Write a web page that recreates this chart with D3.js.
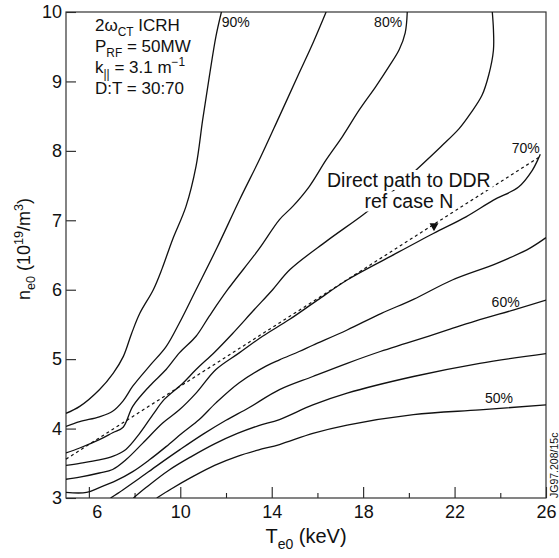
<!DOCTYPE html>
<html>
<head>
<meta charset="utf-8">
<script src="https://cdn.jsdelivr.net/npm/d3@7"></script>
<style>
    body { margin: 0; background: #fff; }
    svg text { font-family: "Liberation Sans", Arial, Helvetica, sans-serif; fill: #111; white-space: pre; }
</style>
</head>
<body>
<svg id="chart" width="559" height="558"></svg>
<script>
// Contours, points are [Te0 (keV), ne0 (10^19/m^3)]
const contourLevels = ["90%", "85%", "80%", "75%", "70%", "65%", "60%", "55%", "50%"];

const contour90 = [[5, 4.22], [5.6, 4.32], [6.46, 4.56], [7.07, 4.8], [7.51, 5.04], [7.87, 5.37], [8.23, 5.66],
    [8.82, 6.0], [9.2, 6.3], [9.66, 6.72], [10.25, 7.2], [10.69, 7.78], [10.98, 8.45], [11.27, 9.07], [11.56, 9.65], [11.8, 10]];
const contour85 = [[5, 4.03], [5.6, 4.1], [6.46, 4.17], [7.04, 4.25], [7.5, 4.4], [7.92, 4.61], [8.65, 4.9], [9.38, 5.18],
    [9.96, 5.52], [10.69, 6.0], [11.6, 6.6], [12.6, 7.3], [13.5, 7.9], [14.34, 8.5], [15.2, 9.12], [15.8, 9.55], [16.38, 10]];
const contour80 = [[5, 3.65], [5.6, 3.72], [6.46, 3.84], [7.04, 3.94], [7.5, 4.02], [7.92, 4.32], [8.65, 4.61], [9.38, 4.85],
    [9.96, 5.09], [10.69, 5.33], [11.27, 5.62], [12.07, 6.0], [13.43, 6.58], [14.34, 7.01], [14.92, 7.2], [15.65, 7.49],
    [16.38, 7.87], [17.1, 8.21], [17.83, 8.59], [18.56, 8.93], [19.14, 9.22], [19.58, 9.46], [19.84, 9.7], [19.93, 10]];
const contour75 = [[5, 3.47], [5.6, 3.5], [6.46, 3.55], [7.04, 3.6], [7.62, 3.7], [8.2, 3.92], [8.8, 4.2], [9.3, 4.42],
    [10.1, 4.65], [10.69, 4.85], [11.5, 5.1], [12.29, 5.37], [13.2, 5.7], [14.04, 6.0], [14.8, 6.29], [16.4, 6.7], [18, 7.08],
    [19.3, 7.42], [20.4, 7.75], [21.4, 8.06], [22.2, 8.32], [22.7, 8.54], [23.2, 8.8], [23.5, 9.1], [23.7, 9.45], [23.7, 9.75], [23.65, 10]];
const contour70 = [[5, 3.27], [5.6, 3.3], [6.46, 3.36], [7.04, 3.41], [7.62, 3.55], [8.36, 3.79], [9.23, 4.08], [9.96, 4.27],
    [10.69, 4.51], [11.56, 4.85], [12.58, 5.09], [13.6, 5.33], [14.77, 5.57], [16, 5.85], [17.3, 6.14], [19.2, 6.48],
    [21.07, 6.81], [22.5, 7.05], [23.7, 7.29], [24.8, 7.48], [25.4, 7.72], [25.75, 7.95]];
const contour65 = [[5, 3.08], [5.9, 3.08], [6.46, 3.15], [7.19, 3.25], [7.92, 3.38], [8.65, 3.55], [9.38, 3.74], [10.1, 3.94],
    [10.83, 4.13], [11.56, 4.37], [12.58, 4.66], [13.75, 4.9], [14.34, 4.99], [15.2, 5.11], [15.8, 5.2], [17.3, 5.42],
    [18.8, 5.66], [20.2, 5.86], [21.9, 6.14], [23.85, 6.38], [25.3, 6.6], [26, 6.75]];
const contour60 = [[6.95, 3.0], [7.5, 3.12], [8.2, 3.28], [9, 3.47], [10, 3.7], [11, 3.92], [12, 4.12], [13, 4.3], [14.34, 4.56],
    [15.8, 4.75], [17.3, 4.94], [18.75, 5.11], [19.9, 5.23], [21.7, 5.42], [23.1, 5.57], [24.6, 5.71], [26, 5.85]];
const contour55 = [[7.95, 3.0], [8.5, 3.15], [9.5, 3.4], [10.5, 3.6], [11.5, 3.78], [12.5, 3.93], [13.4, 4.04], [14.34, 4.13],
    [15.8, 4.34], [17.3, 4.51], [20.2, 4.75], [23.1, 4.94], [26, 5.08]];
const contour50 = [[8.97, 3.0], [9.6, 3.13], [10.5, 3.3], [11.5, 3.47], [12.5, 3.6], [13.4, 3.69], [14.34, 3.77],
    [15.8, 3.93], [17.3, 4.05], [20.2, 4.2], [23.1, 4.27], [26, 4.34]];

const contours = [contour90, contour85, contour80, contour75, contour70, contour65, contour60, contour55, contour50];

// dashed "direct path" and where its arrow head sits
const directPath = [[5, 3.56], [25.75, 7.92]];
const arrowAt = 21.1;

const xTicks = [6, 10, 14, 18, 22, 26];
const xMinorTicks = [8, 12, 16, 20, 24];
const yTicks = [3, 4, 5, 6, 7, 8, 9, 10];

// percent labels and their anchors (data units)
const labelledLevels = ["90%", "80%", "70%", "60%", "50%"];
const labelAnchors = [[11.81, 9.78], [18.48, 9.78], [24.5, 7.965], [23.62, 5.755], [23.33, 4.373]];

/** Draw a text made of normal, sub and superscript pieces. */
function richText(sel, parts, size) {
    let shift = 0;
    parts.forEach(p => {
        let target = p.sub ? size * 0.3 : (p.sup ? -size * 0.4 : 0);
        sel.append("tspan")
           .attr("dy", target - shift)
           .style("font-size", (p.sub || p.sup) ? (size * 0.7) + "px" : size + "px")
           .text(p.t);
        shift = target;
    });
}

class ContourChart {

    constructor(svgId) {
        this.svg = d3.select(svgId);
        this.x = d3.scaleLinear().domain([5, 26]).range([66, 546]);
        this.y = d3.scaleLinear().domain([3, 10]).range([498, 12]);
    }

    draw() {
        let x = this.x, y = this.y, svg = this.svg;
        let [x0, x1] = x.range();
        let [y0, y1] = y.range();

        svg.append("clipPath").attr("id", "plotClip")
           .append("rect")
           .attr("x", x0).attr("y", y1)
           .attr("width", x1 - x0).attr("height", y0 - y1);

        // axes, ticks point into the box
        let xAxis = d3.axisBottom(x).tickValues(xTicks).tickFormat(d3.format("d"))
                      .tickSizeInner(-11).tickSizeOuter(0).tickPadding(7);
        let gx = svg.append("g").attr("transform", "translate(0," + y0 + ")").call(xAxis);
        gx.select(".domain").remove();
        gx.selectAll("text").style("font-size", "18px")
          // the "6" sits a little right of its tick in the original
          .attr("dx", d => d === 6 ? 8 : 0);

        let gxm = svg.append("g").attr("transform", "translate(0," + y0 + ")")
                     .call(d3.axisBottom(x).tickValues(xMinorTicks).tickSizeInner(-5).tickSizeOuter(0).tickFormat(""));
        gxm.select(".domain").remove();

        let yAxis = d3.axisLeft(y).tickValues(yTicks).tickFormat(d3.format("d"))
                      .tickSizeInner(-10).tickSizeOuter(0).tickPadding(4);
        let gy = svg.append("g").attr("transform", "translate(" + x0 + ",0)").call(yAxis);
        gy.select(".domain").remove();
        gy.selectAll("text").style("font-size", "18px");

        svg.selectAll(".tick line").attr("stroke", "#222").attr("stroke-width", 1.1);

        // frame
        svg.append("rect")
           .attr("x", x0).attr("y", y1)
           .attr("width", x1 - x0).attr("height", y0 - y1)
           .attr("fill", "none").attr("stroke", "#333").attr("stroke-width", 1.2);

        // contour lines
        let line = d3.line()
                     .x(d => x(d[0]))
                     .y(d => y(d[1]))
                     .curve(d3.curveCatmullRom.alpha(0.5));

        svg.append("g").attr("clip-path", "url(#plotClip)")
           .selectAll("path")
           .data(contours)
           .enter().append("path")
           .attr("d", line)
           .attr("fill", "none")
           .attr("stroke", "#111")
           .attr("stroke-width", 1.3);

        // direct path to DDR (dashed) with arrow head
        svg.append("path")
           .attr("d", d3.line().x(d => x(d[0])).y(d => y(d[1]))(directPath))
           .attr("fill", "none")
           .attr("stroke", "#111")
           .attr("stroke-width", 1.2)
           .attr("stroke-dasharray", "3,3");

        let t = (arrowAt - directPath[0][0]) / (directPath[1][0] - directPath[0][0]);
        let arrowN = directPath[0][1] + t * (directPath[1][1] - directPath[0][1]);
        svg.append("path")
           .attr("d", "M-4.5,-1 L4.5,-1 L0,7 Z")
           .attr("transform", "translate(" + x(arrowAt) + "," + y(arrowN) + ")")
           .attr("fill", "#111");

        // percent labels
        svg.selectAll(".pct")
           .data(labelledLevels)
           .enter().append("text")
           .attr("class", "pct")
           .attr("x", (d, i) => x(labelAnchors[i][0]))
           .attr("y", (d, i) => y(labelAnchors[i][1]))
           .style("font-size", "14px")
           .text(d => d);

        // condition block
        let bx = x(6.27), by = y(9.73);
        let block = [
            [{t: "2ω"}, {t: "CT", sub: true}, {t: " ICRH"}],
            [{t: "P"}, {t: "RF", sub: true}, {t: " = 50MW"}],
            [{t: "k"}, {t: "||", sub: true}, {t: " = 3.1 m"}, {t: "−1", sup: true}],
            [{t: "D:T = 30:70"}]
        ];
        block.forEach((parts, i) => {
            let txt = svg.append("text").attr("x", bx).attr("y", by + i * 21);
            richText(txt, parts, 17);
        });

        // path annotation, the contour behind it is hidden by a white box
        let note = svg.append("g");
        let mask = note.append("g");
        let noteLines = ["Direct path to DDR", "ref case N"];
        let noteN = [7.48, 7.17];
        noteLines.forEach((s, i) => {
            let txt = note.append("text")
                          .attr("x", x(20)).attr("y", y(noteN[i]))
                          .attr("text-anchor", "middle")
                          .style("font-size", "19.5px")
                          .text(s);
            let b = txt.node().getBBox();
            mask.append("rect")
                .attr("x", b.x - 2).attr("y", b.y + 1)
                .attr("width", b.width + 4).attr("height", b.height - 2)
                .attr("fill", "#fff");
        });

        // axis titles
        let xt = svg.append("text")
                    .attr("x", (x0 + x1) / 2).attr("y", 543)
                    .attr("text-anchor", "middle");
        richText(xt, [{t: "T"}, {t: "e0", sub: true}, {t: " (keV)"}], 20);

        let yt = svg.append("text")
                    .attr("transform", "translate(30," + ((y0 + y1) / 2 - 6) + ") rotate(-90)")
                    .attr("text-anchor", "middle");
        richText(yt, [{t: "n"}, {t: "e0", sub: true}, {t: " (10"}, {t: "19", sup: true},
                      {t: "/m"}, {t: "3", sup: true}, {t: ")"}], 18);

        // figure reference
        svg.append("text")
           .attr("transform", "translate(558," + y0 + ") rotate(-90)")
           .style("font-size", "10.5px")
           .text("JG97.208/15c");
    }
}

let chart = new ContourChart("#chart");
chart.draw();
</script>
</body>
</html>
